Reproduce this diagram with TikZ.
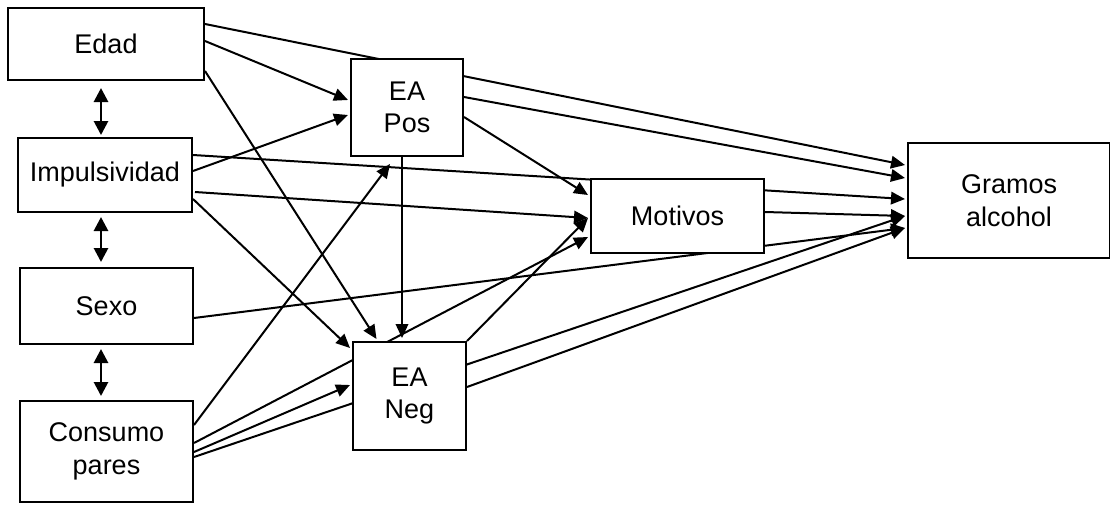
\documentclass[tikz,border=0pt]{standalone}
\usepackage{fontspec}
\setmainfont{Liberation Sans}
\usetikzlibrary{arrows.meta,backgrounds}
\tikzset{
  box/.style={draw=black, line width=2pt, fill=white, rectangle, align=center, inner sep=0pt,
    font=\fontsize{27pt}{32.5pt}\selectfont},
  arr/.style={line width=2pt, -{Triangle[length=14pt,width=12.5pt]}},
  dbl/.style={line width=2.8pt, {Triangle[length=14pt,width=14pt]}-{Triangle[length=14pt,width=14pt]}},
  plain/.style={line width=2pt}
}
\begin{document}
\begin{tikzpicture}[x=1pt,y=-1pt]
\useasboundingbox (0,0) rectangle (1110,504);
\node[box, minimum width=196pt, minimum height=72pt] (edad) at (106,44) {Edad};
\node[box, minimum width=174pt, minimum height=74pt] (imp) at (105,175) {Impulsividad};
\node[box, minimum width=173pt, minimum height=76pt] (sexo) at (106.5,306) {Sexo};
\node[box, minimum width=173pt, minimum height=101pt] (cons) at (106.5,451.5) {Consumo\\pares};
\node[box, minimum width=112pt, minimum height=97pt] (pos) at (407,107.5) {EA\\Pos};
\node[box, minimum width=113pt, minimum height=108pt] (neg) at (409.5,396) {EA\\Neg};
\node[box, minimum width=173pt, minimum height=74pt] (mot) at (677.5,216) {Motivos};
\node[box, minimum width=202pt, minimum height=115pt] (gram) at (1009,200.5) {Gramos\\alcohol};

\begin{pgfonlayer}{background}
% Edad
\draw[arr] ([yshift=20pt]edad.east) -- ([xshift=-2pt,yshift=35.5pt]gram.west);
\draw[arr] ([yshift=3pt]edad.east) -- ([xshift=-2pt,yshift=7.5pt]pos.west);
\draw[arr] ([yshift=-27pt]edad.east) -- ([xshift=-33pt,yshift=2pt]neg.north);
% Impulsividad
\draw[arr] ([yshift=4pt]imp.east) -- ([xshift=-2pt,yshift=-7.5pt]pos.west);
\draw[arr] ([yshift=20pt]imp.east) -- ([xshift=-2pt,yshift=1.5pt]gram.west);
\draw[arr] ([xshift=2pt,yshift=-17pt]imp.east) -- ([xshift=-2pt,yshift=-2pt]mot.west);
\draw[arr] ([yshift=-24pt]imp.east) -- ([xshift=-2pt,yshift=48pt]neg.west);
% Sexo
\draw[arr] ([yshift=-12pt]sexo.east) -- ([xshift=-2pt,yshift=-27.5pt]gram.west);
% Consumo
\draw[arr] ([yshift=26.5pt]cons.east) -- ([xshift=-17pt,yshift=-7pt]pos.south);
\draw[arr] ([yshift=8.5pt]cons.east) -- ([xshift=-2pt,yshift=-21pt]mot.west);
\draw[arr] ([yshift=-0.5pt]cons.east) -- ([xshift=-2pt,yshift=11pt]neg.west);
\draw[arr] ([yshift=-5.5pt]cons.east) -- ([xshift=-2pt,yshift=-15.5pt]gram.west);
% EA Pos
\draw[arr] ([yshift=10.5pt]pos.east) -- ([xshift=-2pt,yshift=22.5pt]gram.west);
\draw[arr] ([yshift=-9.5pt]pos.east) -- ([xshift=-2pt,yshift=21pt]mot.west);
\draw[arr] ([xshift=-5pt]pos.south) -- ([xshift=-7.5pt,yshift=3pt]neg.north);
% EA Neg
\draw[arr] (neg.north east) -- ([xshift=-2pt,yshift=-2pt]mot.west);
\draw[arr] ([yshift=9pt]neg.east) -- ([xshift=-2pt,yshift=-27.5pt]gram.west);
% Motivos
\draw[arr] ([yshift=4pt]mot.east) -- ([xshift=-2pt,yshift=-15.5pt]gram.west);
\end{pgfonlayer}

% double arrows
\draw[dbl] ([xshift=-5pt,yshift=-7pt]edad.south) -- ([xshift=-4pt,yshift=2pt]imp.north);
\draw[dbl] ([xshift=-4pt,yshift=-4pt]imp.south) -- ([xshift=-5.5pt,yshift=5pt]sexo.north);
\draw[dbl] ([xshift=-5.5pt,yshift=-4pt]sexo.south) -- ([xshift=-5.5pt,yshift=4pt]cons.north);
\end{tikzpicture}
\end{document}
